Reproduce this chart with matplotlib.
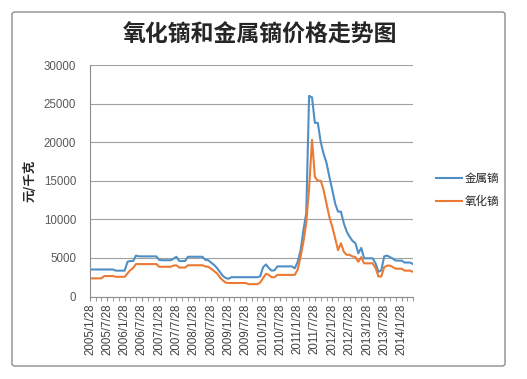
import matplotlib
matplotlib.use("Agg")
import matplotlib.pyplot as plt
import matplotlib.dates as mdates
from matplotlib.patches import FancyBboxPatch
from datetime import date

plt.rcParams['font.family'] = ['Noto Sans CJK SC', 'DejaVu Sans']

title = "氧化镝和金属镝价格走势图"
ylabel = "元/千克"
series_names = ["金属镝", "氧化镝"]

# monthly observations, starting 2005/1/28
start_year, start_month, n_months = 2005, 1, 113
dates = [date(start_year + (start_month - 1 + i) // 12, (start_month - 1 + i) % 12 + 1, 28)
         for i in range(n_months)]

metal = [
    3500, 3500, 3500, 3500, 3500, 3500, 3500, 3500, 3500,
    3350, 3350, 3350, 3350,
    4500, 4600, 4600, 5300, 5200, 5200, 5200, 5200, 5200, 5200, 5200,
    4750, 4700, 4700, 4700, 4700,
    4900, 5150, 4600, 4600, 4600,
    5150, 5150, 5150, 5150, 5150, 5150,
    4750, 4700, 4400, 4100, 3700, 3200, 2700, 2400, 2300,
    2500, 2500, 2500, 2500, 2500, 2500, 2500, 2500, 2500, 2500,
    2600, 3800, 4150, 3700, 3350, 3400,
    3900, 3900, 3900, 3900, 3900, 3900, 3650,
    4500, 6000, 8500, 10800, 26000, 25800, 22500, 22500, 20000, 18500,
    17300, 15500, 13800, 12000, 11000, 11000, 9500, 8400, 7750, 7200,
    6900, 5600, 6300,
    4950, 4950, 4950, 4950, 4300,
    3200, 3400, 5200, 5300, 5100, 4900, 4650, 4650, 4650, 4400, 4400, 4400, 4200,
]

oxide = [
    2350, 2350, 2350, 2350, 2350, 2650, 2650, 2650, 2650,
    2550, 2550, 2550, 2550,
    3000, 3400, 3700, 4200, 4200, 4200, 4200, 4200, 4200, 4200, 4200,
    3850, 3850, 3850, 3850, 3850,
    4000, 4050, 3750, 3750, 3750,
    4050, 4050, 4050, 4050, 4050, 4050,
    3900, 3850, 3600, 3300, 3000, 2500, 2100, 1800, 1750,
    1750, 1750, 1750, 1750, 1750, 1750, 1600, 1600, 1600, 1600,
    1800, 2400, 2950, 2800, 2500, 2500,
    2800, 2800, 2800, 2800, 2800, 2800, 2800,
    3500, 5200, 7000, 9500, 14000, 20300, 15500, 15000, 15000, 13800,
    12000, 10300, 9000, 7500, 6000, 6900, 5800, 5400, 5400, 5200,
    5100, 4500, 5100,
    4300, 4300, 4300, 4300, 3700,
    2600, 2600, 3800, 4000, 4000, 3800, 3600, 3600, 3600, 3350, 3350, 3350, 3200,
]

yticks = [0, 5000, 10000, 15000, 20000, 25000, 30000]

fig = plt.figure(figsize=(5.27, 3.79), dpi=100)
fig.patch.set_facecolor('white')

border = FancyBboxPatch((12 / 527, 1 - 366 / 379), (505 - 12) / 527, (366 - 12) / 379,
                        boxstyle="round,pad=0,rounding_size=0.006",
                        transform=fig.transFigure, facecolor='none',
                        edgecolor='#8c8c8c', linewidth=1.0, zorder=-1)
fig.patches.append(border)

ax = fig.add_axes([90 / 527, 1 - 296.5 / 379, (413 - 90) / 527, (296.5 - 65) / 379])
ax.set_facecolor('none')

ax.plot(dates, metal, color='#4f8fc6', linewidth=1.5, label=series_names[0])
ax.plot(dates, oxide, color='#ec7a34', linewidth=1.5, label=series_names[1])

ax.set_ylim(0, 30000)
ax.set_yticks(yticks)
ax.set_xlim(dates[0], dates[-1])
ax.yaxis.grid(True, color='#a0a0a0', linewidth=0.8)
ax.set_axisbelow(True)

ax.xaxis.set_major_locator(mdates.MonthLocator(bymonth=[1, 7], bymonthday=28))
ax.xaxis.set_minor_locator(mdates.MonthLocator(bymonth=[3, 5, 9, 11], bymonthday=28))
ax.xaxis.set_major_formatter(mdates.DateFormatter('%Y/%-m/%-d'))

for lab in ax.get_xticklabels():
    lab.set_rotation(90)
ax.tick_params(axis='x', which='both', direction='out', length=3, color='#8c8c8c',
               labelsize=8.3, labelcolor='#404040', pad=2)
ax.tick_params(axis='y', length=0, labelsize=8.3, labelcolor='#595959', pad=10)
for lab in ax.get_xticklabels() + ax.get_yticklabels():
    lab.set_family('Liberation Sans')

for s in ['top', 'right']:
    ax.spines[s].set_visible(False)
ax.spines['left'].set_color('#8c8c8c')
ax.spines['bottom'].set_color('#8c8c8c')
ax.spines['left'].set_linewidth(0.8)
ax.spines['bottom'].set_linewidth(0.8)

ax.set_ylabel(ylabel, fontsize=9, fontweight='bold', color='#262626', labelpad=5)

fig.text(260 / 527, 1 - 35 / 379, title, ha='center', va='center',
         fontsize=16.5, color='#262626', fontweight='semibold')

leg = ax.legend(loc='center left', bbox_to_anchor=(1.04, 0.46), frameon=False,
                fontsize=8.3, handlelength=2.2, handletextpad=0.3, labelspacing=0.9)
for t in leg.get_texts():
    t.set_color('#262626')

fig.savefig('out.png', dpi=100, facecolor='white')
